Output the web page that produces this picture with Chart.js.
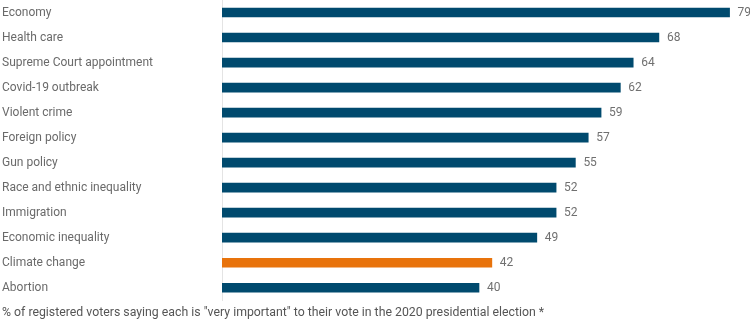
<!DOCTYPE html>
<html>
<head>
<meta charset="utf-8">
<script src="https://cdn.jsdelivr.net/npm/chart.js@4/dist/chart.umd.min.js"></script>
<style>
  html, body { margin: 0; padding: 0; background: #fff; }
  #wrap { width: 750px; height: 322px; }
</style>
</head>
<body>
<div id="wrap"><canvas id="c" width="750" height="322"></canvas></div>
<script>
const categories = ["Economy", "Health care", "Supreme Court appointment", "Covid-19 outbreak", "Violent crime", "Foreign policy", "Gun policy", "Race and ethnic inequality", "Immigration", "Economic inequality", "Climate change", "Abortion"];
const values = [79, 68, 64, 62, 59, 57, 55, 52, 52, 49, 42, 40];
const highlight = "Climate change";
const footnote = "% of registered voters saying each is \"very important\" to their vote in the 2020 presidential election *";

const BLUE = "#004a6e";
const ORANGE = "#e8730c";
const FONT = "Roboto, 'Liberation Sans', sans-serif";

const valueLabels = {
  id: "valueLabels",
  afterDatasetsDraw(chart) {
    const ctx = chart.ctx;
    const meta = chart.getDatasetMeta(0);
    ctx.save();
    ctx.font = "12px " + FONT;
    ctx.fillStyle = "#707070";
    ctx.textAlign = "left";
    ctx.textBaseline = "middle";
    meta.data.forEach((bar, i) => {
      ctx.fillText(String(values[i]), bar.x + 8, bar.y);
    });
    ctx.restore();
  }
};

new Chart(document.getElementById("c"), {
  type: "bar",
  data: {
    labels: categories,
    datasets: [{
      data: values,
      backgroundColor: categories.map(c => c === highlight ? ORANGE : BLUE),
      barThickness: 9,
      borderWidth: 0
    }]
  },
  options: {
    indexAxis: "y",
    responsive: false,
    animation: false,
    layout: { padding: { left: 2, right: 14, top: 0, bottom: 0 } },
    plugins: {
      legend: { display: false },
      tooltip: { enabled: false },
      title: {
        display: true,
        text: footnote,
        position: "bottom",
        align: "start",
        color: "#555",
        font: { family: FONT, size: 12.3, weight: "normal" },
        padding: { top: 5, bottom: 2 }
      }
    },
    scales: {
      x: { display: false, min: 0, max: 80 },
      y: {
        afterFit(scale) { scale.width = 220; scale.paddingTop = 0; scale.paddingBottom = 0; },
        grid: { display: true, drawOnChartArea: false, drawTicks: false, color: "transparent" },
        border: { display: true, color: "#e4e4e4", width: 1 },
        ticks: {
          crossAlign: "far",
          padding: 0,
          color: "#6a6a6a",
          font: { family: FONT, size: 12 }
        }
      }
    }
  },
  plugins: [valueLabels]
});
</script>
</body>
</html>
